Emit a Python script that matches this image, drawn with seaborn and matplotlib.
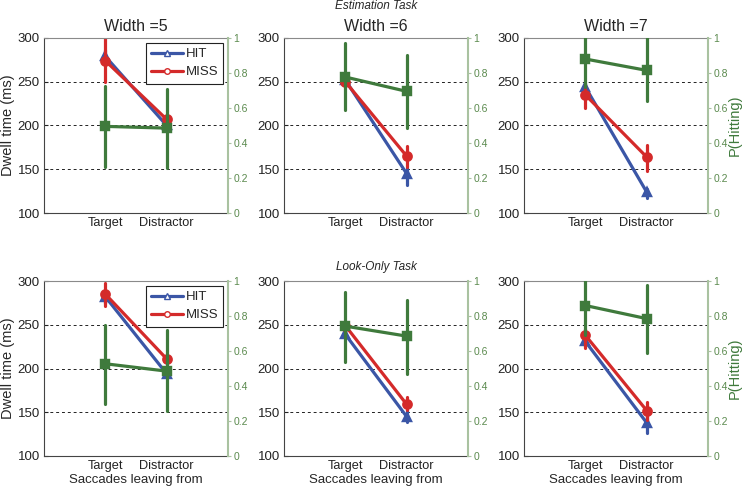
import pandas as pd
import matplotlib.pyplot as plt
import seaborn as sns
from matplotlib.lines import Line2D

sns.set_style("white")
plt.rcParams['font.family'] = ['Liberation Sans', 'DejaVu Sans']

saccade_from = ['Target', 'Distractor']
widths = [5, 6, 7]
tasks = ['Estimation Task', 'Look-Only Task']

# one entry per width (5, 6, 7); each is [Target, Distractor], each point = [mean, lower, upper]
est_hit = [[[279, 272, 286], [200, 196, 204]],
           [[252, 247, 257], [145, 132, 151]],
           [[244, 240, 248], [124, 117, 127]]]
est_miss = [[[274, 250, 300], [207, 203, 211]],
            [[250, 245, 255], [165, 153, 176]],
            [[235, 220, 247], [164, 148, 178]]]
est_phit = [[[0.495, 0.265, 0.725], [0.485, 0.255, 0.71]],
            [[0.777, 0.59, 0.97], [0.695, 0.485, 0.90]],
            [[0.88, 0.72, 1.05], [0.815, 0.64, 1.02]]]

look_hit = [[[282, 275, 288], [194, 190, 198]],
            [[239, 235, 243], [145, 139, 153]],
            [[231, 226, 236], [138, 126, 149]]]
look_miss = [[[285, 271, 298], [211, 207, 214]],
             [[249, 244, 254], [159, 153, 168]],
             [[238, 224, 245], [152, 141, 162]]]
look_phit = [[[0.527, 0.30, 0.75], [0.485, 0.255, 0.72]],
             [[0.742, 0.535, 0.94], [0.685, 0.47, 0.89]],
             [[0.86, 0.69, 1.02], [0.785, 0.59, 0.975]]]

blue = '#3b56a6'
red = '#d42a2a'
green = '#3f7a3c'
pale_green = '#a9c2a0'


def long_rows(task, hit, miss, phit):
    rows = []
    for w, h_w, m_w, p_w in zip(widths, hit, miss, phit):
        for loc, h, m, p in zip(saccade_from, h_w, m_w, p_w):
            for v in h:
                rows.append((task, w, 'HIT', loc, v))
            for v in m:
                rows.append((task, w, 'MISS', loc, v))
            for v in p:
                rows.append((task, w, 'P', loc, v))
    return rows


df = pd.DataFrame(long_rows(tasks[0], est_hit, est_miss, est_phit)
                  + long_rows(tasks[1], look_hit, look_miss, look_phit),
                  columns=['task', 'width', 'series', 'loc', 'v'])

fig = plt.figure(figsize=(7.42, 4.87), dpi=100)
lefts = [44 / 742, 284 / 742, 524 / 742]
bottoms = [1 - 213 / 487, 1 - 456 / 487]
w_ax, h_ax = 184 / 742, 175 / 487

for r, task in enumerate(tasks):
    for c, w in enumerate(widths):
        ax = fig.add_axes([lefts[c], bottoms[r], w_ax, h_ax])
        sub = df[(df.task == task) & (df.width == w)]

        sns.pointplot(data=sub[sub.series != 'P'], x='loc', y='v', hue='series',
                      order=saccade_from, hue_order=['HIT', 'MISS'],
                      palette=[blue, red], markers=['^', 'o'],
                      estimator='median', errorbar=('pi', 100), dodge=False,
                      markersize=6, linewidth=2.3, err_kws={'linewidth': 2.3},
                      legend=False, ax=ax)
        ax.set_xlim(-1, 2)
        ax.set_ylim(100, 300)
        ax.set_yticks([100, 150, 200, 250, 300])
        ax.set_axisbelow(True)
        ax.yaxis.grid(True, linestyle=(0, (3, 3)), color='#222222', linewidth=0.7)
        gl = ax.get_ygridlines()
        gl[0].set_visible(False)
        gl[-1].set_visible(False)
        ax.tick_params(axis='both', direction='in', length=3, labelsize=9.5,
                       colors='#222222', pad=3)
        ax.tick_params(axis='x', labelsize=9.2)
        for s in ['left', 'bottom']:
            ax.spines[s].set_color('#444444')
            ax.spines[s].set_linewidth(0.8)
        ax.spines['top'].set_color('#8a8a8a')
        ax.spines['top'].set_linewidth(0.8)
        ax.spines['right'].set_visible(False)
        ax.set_xlabel('Saccades leaving from' if r == 1 else '', fontsize=9.5, labelpad=1)
        ax.set_ylabel('Dwell time (ms)' if c == 0 else '', fontsize=10.5, labelpad=2)
        if r == 0:
            ax.set_title(f'Width ={w}', fontsize=11.5, pad=5)

        ax2 = ax.twinx()
        sns.pointplot(data=sub[sub.series == 'P'], x='loc', y='v',
                      order=saccade_from, color=green, markers='s',
                      estimator='median', errorbar=('pi', 100),
                      markersize=6, linewidth=2.3, err_kws={'linewidth': 2.3},
                      ax=ax2)
        ax2.set_xlim(-1, 2)
        ax2.set_ylim(0, 1)
        ax2.set_yticks([0, 0.2, 0.4, 0.6, 0.8, 1])
        ax2.set_yticklabels(['0', '0.2', '0.4', '0.6', '0.8', '1'])
        ax2.tick_params(axis='y', direction='out', length=2.5, labelsize=7.5,
                        colors=pale_green, labelcolor='#5b8a4e', pad=1.5)
        for s in ['left', 'bottom', 'top']:
            ax2.spines[s].set_visible(False)
        ax2.spines['right'].set_color(pale_green)
        ax2.spines['right'].set_linewidth(1.5)
        ax2.set_xlabel('')
        ax2.set_ylabel('P(Hitting)' if c == 2 else '', fontsize=10.5, color=green, labelpad=0)

        if c == 0:
            handles = [Line2D([], [], color=blue, lw=2.3, marker='^', markersize=4,
                              markerfacecolor='white', label='HIT'),
                       Line2D([], [], color=red, lw=2.3, marker='o', markersize=4,
                              markerfacecolor='white', label='MISS')]
            leg = ax2.legend(handles=handles, loc='upper right', fontsize=9.5,
                             frameon=True, fancybox=False, edgecolor='#222222',
                             handlelength=2.4, borderaxespad=0.35, labelspacing=0.45,
                             borderpad=0.4, handletextpad=0.2)
            leg.get_frame().set_linewidth(0.8)
            leg.get_frame().set_alpha(1)

fig.text(lefts[1] + w_ax / 2, 0.988, 'Estimation Task', ha='center', va='center',
         fontsize=8.5, style='italic')
fig.text(lefts[1] + w_ax / 2, 1 - 267 / 487, 'Look-Only Task', ha='center', va='center',
         fontsize=8.5, style='italic')

fig.savefig('out.png', dpi=100)
